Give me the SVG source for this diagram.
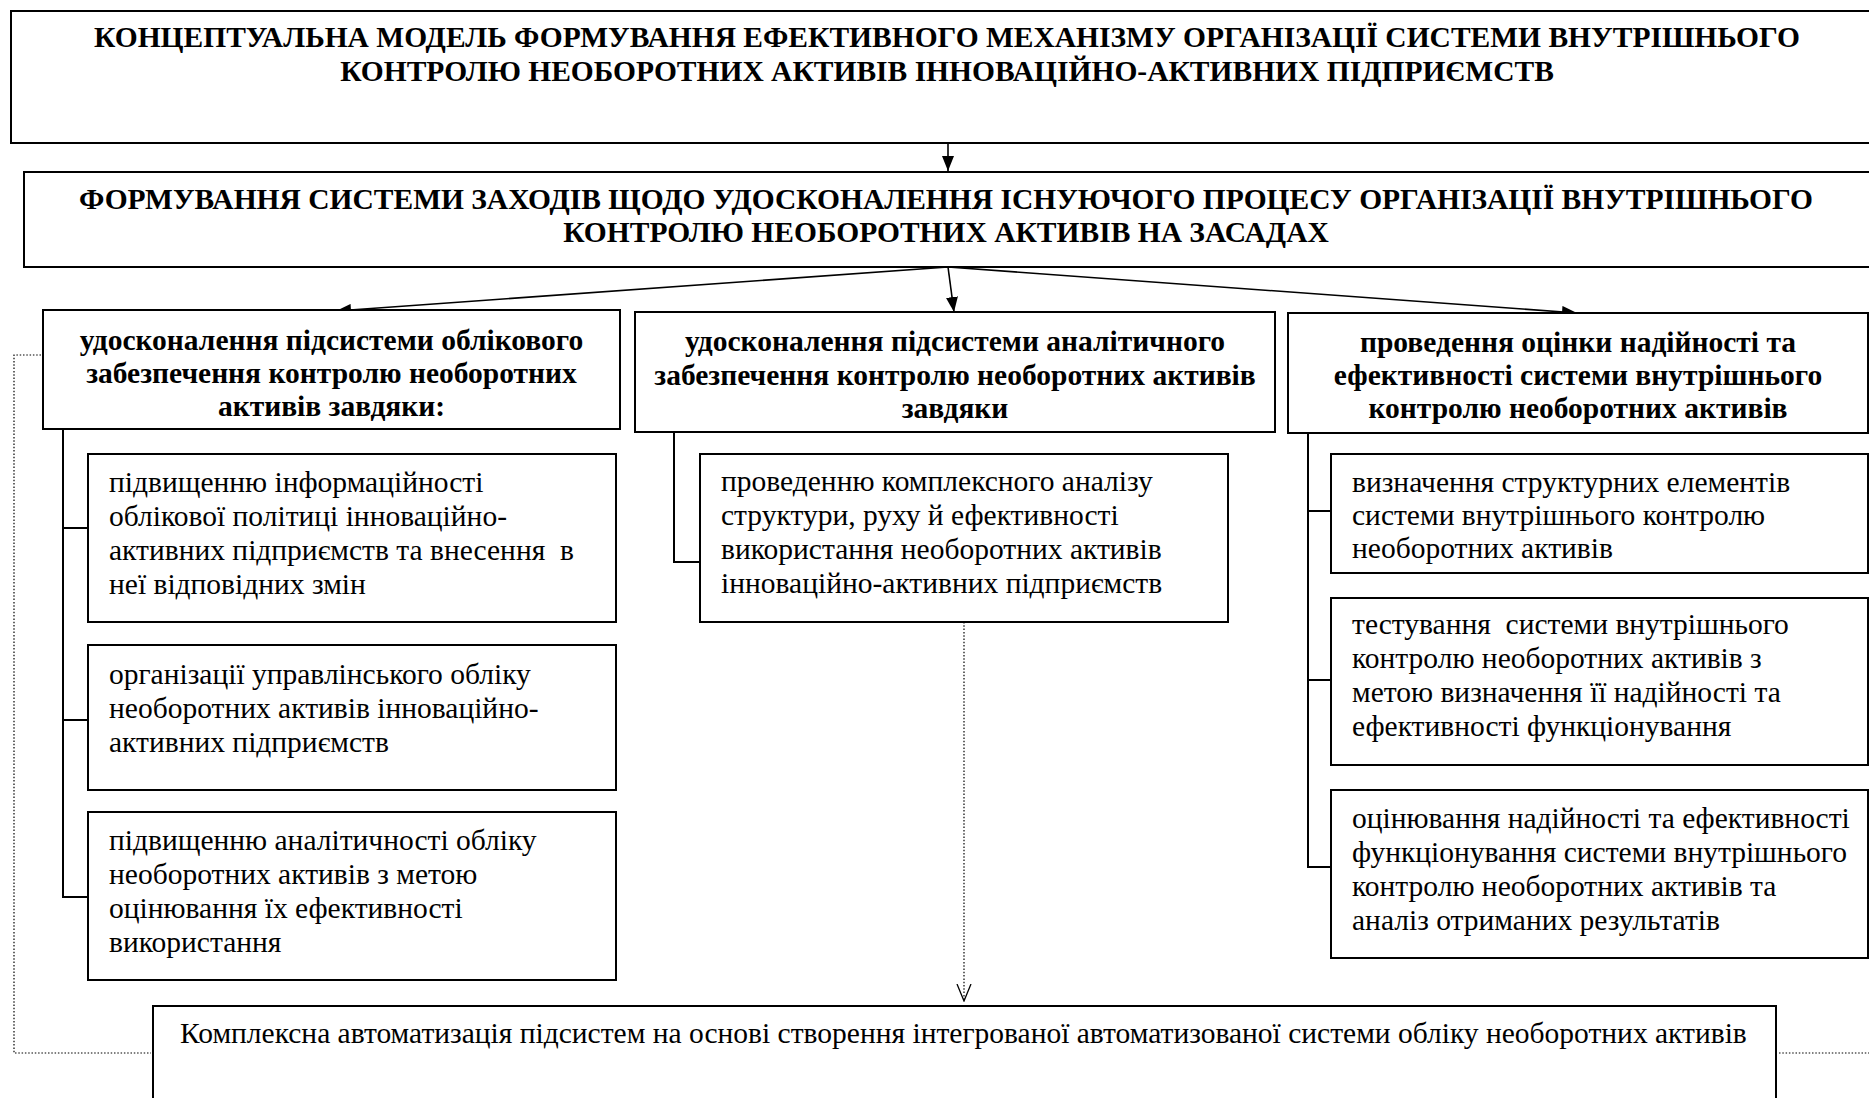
<svg xmlns="http://www.w3.org/2000/svg" width="1869" height="1098" viewBox="0 0 1869 1098">
<defs>
<style>
.box{fill:#fff;stroke:#000;stroke-width:2}
.t{font-family:"Liberation Serif","Times New Roman",serif;font-size:29.5px;fill:#000;white-space:pre}
.b{font-weight:bold}
.c{text-anchor:middle}
.ln{fill:none;stroke:#000;stroke-width:2}
.ar{fill:none;stroke:#000;stroke-width:1.6}
.dot{fill:none;stroke:#000;stroke-width:1.2;stroke-dasharray:1.5 1.8}
</style>
<marker id="ah" markerWidth="15" markerHeight="12" refX="15" refY="6" orient="auto" markerUnits="userSpaceOnUse">
<path d="M0,0 L15,6 L0,12 Z" fill="#000"/>
</marker>
<marker id="vh" markerWidth="18" markerHeight="16" refX="17" refY="8" orient="auto" markerUnits="userSpaceOnUse">
<path d="M0,1 L17,8 L0,15" fill="none" stroke="#000" stroke-width="1.3"/>
</marker>
</defs>
<rect width="1869" height="1098" fill="#fff"/>

<g id="connectors">
<line class="ar" x1="948" y1="143" x2="948" y2="171" marker-end="url(#ah)"/>
<line class="ar" x1="948" y1="267" x2="336" y2="311" marker-end="url(#ah)"/>
<line class="ar" x1="948" y1="267" x2="954" y2="312" marker-end="url(#ah)"/>
<line class="ar" x1="948" y1="267" x2="1577" y2="313" marker-end="url(#ah)"/>
<polyline class="ln" points="63,429 63,897 88,897"/>
<line class="ln" x1="63" y1="528" x2="88" y2="528"/>
<line class="ln" x1="63" y1="720" x2="88" y2="720"/>
<polyline class="ln" points="674,433 674,562 700,562"/>
<polyline class="ln" points="1308,433 1308,867 1331,867"/>
<line class="ln" x1="1308" y1="511" x2="1331" y2="511"/>
<line class="ln" x1="1308" y1="680" x2="1331" y2="680"/>
<line class="dot" x1="964" y1="622" x2="964" y2="1001" marker-end="url(#vh)"/>
<polyline class="dot" points="41,355 14,355 14,1053 151,1053"/>
<line class="dot" x1="1779" y1="1053" x2="1869" y2="1053"/>
</g>

<g id="title">
<rect class="box" x="11" y="11" width="1875" height="132"/>
<text class="t b c" x="947" y="47">КОНЦЕПТУАЛЬНА МОДЕЛЬ ФОРМУВАННЯ ЕФЕКТИВНОГО МЕХАНІЗМУ ОРГАНІЗАЦІЇ СИСТЕМИ ВНУТРІШНЬОГО</text>
<text class="t b c" x="947" y="81">КОНТРОЛЮ НЕОБОРОТНИХ АКТИВІВ ІННОВАЦІЙНО-АКТИВНИХ ПІДПРИЄМСТВ</text>
</g>

<g id="measures">
<rect class="box" x="24" y="172" width="1860" height="95"/>
<text class="t b c" x="946" y="209">ФОРМУВАННЯ СИСТЕМИ ЗАХОДІВ ЩОДО УДОСКОНАЛЕННЯ ІСНУЮЧОГО ПРОЦЕСУ ОРГАНІЗАЦІЇ ВНУТРІШНЬОГО</text>
<text class="t b c" x="946" y="242">КОНТРОЛЮ НЕОБОРОТНИХ АКТИВІВ НА ЗАСАДАХ</text>
</g>

<g id="head-left">
<rect class="box" x="43" y="310" width="577" height="119"/>
<text class="t b c" x="331.5" y="350">удосконалення підсистеми облікового</text>
<text class="t b c" x="331.5" y="383">забезпечення контролю необоротних</text>
<text class="t b c" x="331.5" y="416">активів завдяки:</text>
</g>

<g id="head-mid">
<rect class="box" x="635" y="312" width="640" height="120"/>
<text class="t b c" x="955" y="351">удосконалення підсистеми аналітичного</text>
<text class="t b c" x="955" y="385">забезпечення контролю необоротних активів</text>
<text class="t b c" x="955" y="418">завдяки</text>
</g>

<g id="head-right">
<rect class="box" x="1288" y="313" width="580" height="120"/>
<text class="t b c" x="1578" y="352">проведення оцінки надійності та</text>
<text class="t b c" x="1578" y="385">ефективності системи внутрішнього</text>
<text class="t b c" x="1578" y="418">контролю необоротних активів</text>
</g>

<g id="left-1">
<rect class="box" x="88" y="454" width="528" height="168"/>
<text class="t" x="109" y="492">підвищенню інформаційності</text>
<text class="t" x="109" y="526">облікової політиці інноваційно-</text>
<text class="t" x="109" y="560">активних підприємств та внесення  в</text>
<text class="t" x="109" y="594">неї відповідних змін</text>
</g>

<g id="left-2">
<rect class="box" x="88" y="645" width="528" height="145"/>
<text class="t" x="109" y="684">організації управлінського обліку</text>
<text class="t" x="109" y="718">необоротних активів інноваційно-</text>
<text class="t" x="109" y="752">активних підприємств</text>
</g>

<g id="left-3">
<rect class="box" x="88" y="812" width="528" height="168"/>
<text class="t" x="109" y="850">підвищенню аналітичності обліку</text>
<text class="t" x="109" y="884">необоротних активів з метою</text>
<text class="t" x="109" y="918">оцінювання їх ефективності</text>
<text class="t" x="109" y="952">використання</text>
</g>

<g id="mid-1">
<rect class="box" x="700" y="454" width="528" height="168"/>
<text class="t" x="721" y="491">проведенню комплексного аналізу</text>
<text class="t" x="721" y="525">структури, руху й ефективності</text>
<text class="t" x="721" y="559">використання необоротних активів</text>
<text class="t" x="721" y="593">інноваційно-активних підприємств</text>
</g>

<g id="right-1">
<rect class="box" x="1331" y="454" width="537" height="119"/>
<text class="t" x="1352" y="492">визначення структурних елементів</text>
<text class="t" x="1352" y="525">системи внутрішнього контролю</text>
<text class="t" x="1352" y="558">необоротних активів</text>
</g>

<g id="right-2">
<rect class="box" x="1331" y="598" width="537" height="167"/>
<text class="t" x="1352" y="634">тестування  системи внутрішнього</text>
<text class="t" x="1352" y="668">контролю необоротних активів з</text>
<text class="t" x="1352" y="702">метою визначення її надійності та</text>
<text class="t" x="1352" y="736">ефективності функціонування</text>
</g>

<g id="right-3">
<rect class="box" x="1331" y="790" width="537" height="168"/>
<text class="t" x="1352" y="828">оцінювання надійності та ефективності</text>
<text class="t" x="1352" y="862">функціонування системи внутрішнього</text>
<text class="t" x="1352" y="896">контролю необоротних активів та</text>
<text class="t" x="1352" y="930">аналіз отриманих результатів</text>
</g>

<g id="automation">
<rect class="box" x="153" y="1006" width="1623" height="120"/>
<text class="t" x="180" y="1043">Комплексна автоматизація підсистем на основі створення інтегрованої автоматизованої системи обліку необоротних активів</text>
</g>
</svg>
